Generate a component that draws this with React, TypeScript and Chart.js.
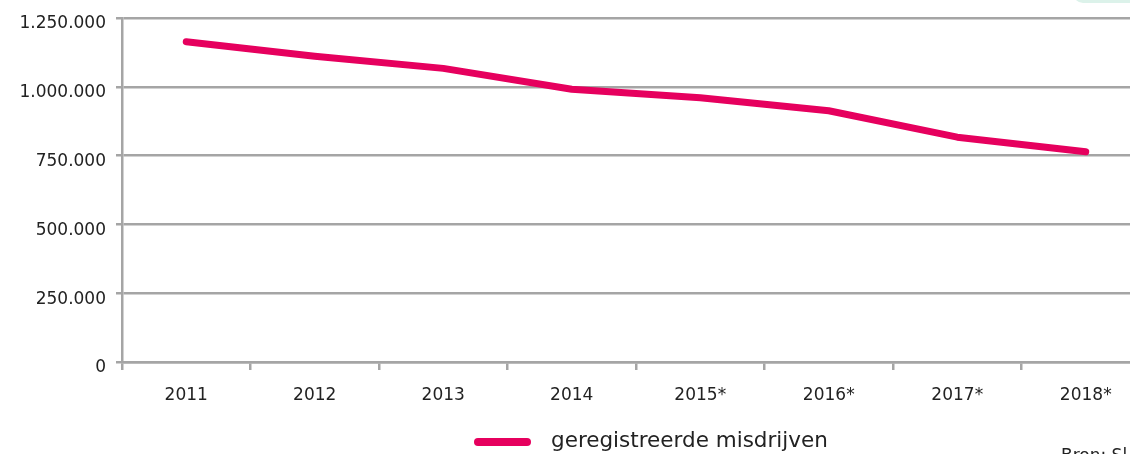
import React, { useEffect, useRef } from "react";
import { Chart, registerables } from "chart.js";

Chart.register(...registerables);

const categories = ["2011", "2012", "2013", "2014", "2015*", "2016*", "2017*", "2018*"];
const misdrijven = [1164000, 1111000, 1067000, 991000, 960000, 913000, 817000, 764000];
const seriesLabel = "geregistreerde misdrijven";
const yTicks = [0, 250000, 500000, 750000, 1000000, 1250000];

const FONT = "DejaVu Sans";
const MAGENTA = "#e6005e";
const GRID = "#a5a5a5";
const TEXT = "#222222";

const fmt = (v: number) => String(v).replace(/\B(?=(\d{3})+(?!\d))/g, ".");

const legendPlugin = {
  id: "customLegend",
  afterDraw(chart: any) {
    const ctx = chart.ctx;
    const ds = chart.data.datasets[0];
    ctx.save();
    ctx.strokeStyle = ds.borderColor;
    ctx.lineWidth = 8;
    ctx.lineCap = "round";
    ctx.beginPath();
    ctx.moveTo(478, 442);
    ctx.lineTo(527, 442);
    ctx.stroke();
    ctx.fillStyle = TEXT;
    ctx.font = `21.5px "${FONT}"`;
    ctx.textBaseline = "middle";
    ctx.textAlign = "left";
    ctx.fillText(ds.label, 551, 441);
    ctx.restore();
  },
};

export default function App() {
  const ref = useRef<HTMLCanvasElement | null>(null);

  useEffect(() => {
    if (!ref.current) return;
    const chart = new Chart(ref.current, {
      type: "line",
      data: {
        labels: categories,
        datasets: [
          {
            label: seriesLabel,
            data: misdrijven,
            borderColor: MAGENTA,
            backgroundColor: MAGENTA,
            borderWidth: 7,
            borderCapStyle: "round",
            borderJoinStyle: "round",
            pointRadius: 0,
            pointHoverRadius: 0,
            tension: 0,
            fill: false,
          },
        ],
      },
      options: {
        animation: false,
        responsive: false,
        maintainAspectRatio: false,
        layout: { padding: { top: 18, right: 10, left: 0, bottom: 0 } },
        plugins: {
          legend: { display: false },
          tooltip: { enabled: false },
        },
        scales: {
          x: {
            type: "category",
            offset: true,
            grid: {
              display: true,
              drawOnChartArea: false,
              drawTicks: true,
              tickLength: 8,
              color: GRID,
              lineWidth: 2.5,
              offset: true,
            },
            border: { color: GRID, width: 2.5 },
            ticks: {
              color: TEXT,
              font: { family: FONT, size: 17 },
              padding: 15,
              maxRotation: 0,
              autoSkip: false,
            },
            afterFit: (s: any) => {
              s.height = 92;
            },
          },
          y: {
            min: 0,
            max: 1250000,
            afterBuildTicks: (s: any) => {
              s.ticks = yTicks.map((v) => ({ value: v }));
            },
            grid: {
              color: GRID,
              lineWidth: 2.5,
              tickLength: 6,
              drawTicks: true,
            },
            border: { color: GRID, width: 2.5 },
            ticks: {
              color: TEXT,
              font: { family: FONT, size: 17 },
              padding: 10,
              labelOffset: 6,
              callback: (v: any) => fmt(Number(v)),
            },
            afterFit: (s: any) => {
              s.width = 122;
              s.paddingTop = 0;
              s.paddingBottom = 0;
            },
          },
        },
      },
      plugins: [legendPlugin],
    });
    return () => chart.destroy();
  }, []);

  return (
    <div
      style={{
        position: "fixed",
        left: 0,
        top: 0,
        width: 1130,
        height: 454,
        overflow: "hidden",
        background: "#ffffff",
      }}
    >
      <div
        style={{
          position: "absolute",
          left: 1073,
          top: -20,
          width: 100,
          height: 23,
          borderRadius: 10,
          background: "#dcf2ea",
        }}
      />
      <canvas ref={ref} width={1160} height={454} style={{ display: "block", position: "absolute", left: 0, top: 0 }} />
      <div
        style={{
          position: "absolute",
          left: 1061,
          top: 445,
          fontFamily: FONT,
          fontSize: 17,
          color: TEXT,
          whiteSpace: "nowrap",
        }}
      >
        Bron: Sl
      </div>
    </div>
  );
}
